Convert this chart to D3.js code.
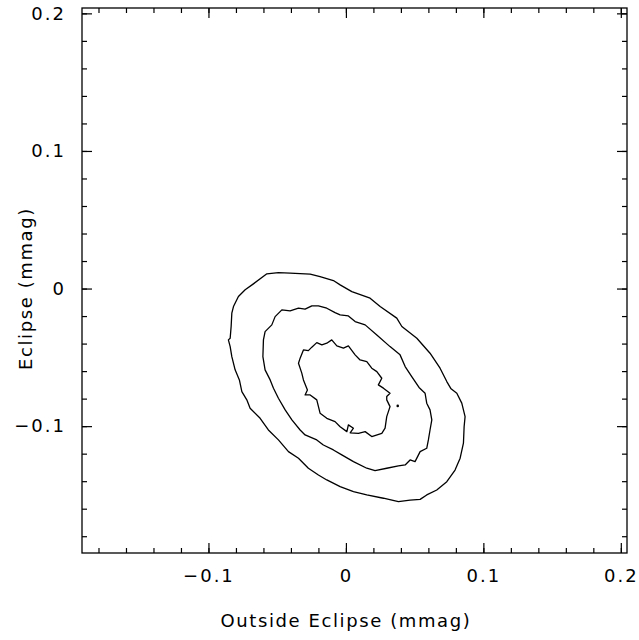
<!doctype html>
<html>
<head>
  <meta charset="utf-8">
  <title>Eclipse vs Outside Eclipse</title>
  <style>
  body { margin: 0; background: #fff; }
  svg text { font-family: "DejaVu Sans ExtraLight", "DejaVu Sans", sans-serif; fill: #000; }
  </style>
</head>
<body>
  <div id="vis"></div>
  <script src="https://d3js.org/d3.v7.min.js"></script>
  <script>
  // contour levels, [outside, eclipse] in mmag
  var outerContour = [
    [-0.0575, 0.0107], [-0.0491, 0.0116], [-0.0406, 0.0112], [-0.0260, 0.0105], [-0.0188, 0.0087],
    [-0.0091, 0.0058], [-0.0042, 0.0027], [0.0043, -0.0022], [0.0176, -0.0070], [0.0249, -0.0131],
    [0.0370, -0.0215], [0.0407, -0.0276], [0.0516, -0.0361], [0.0612, -0.0470], [0.0685, -0.0579],
    [0.0734, -0.0676], [0.0765, -0.0729], [0.0807, -0.0761], [0.0843, -0.0833], [0.0867, -0.0931],
    [0.0860, -0.1004], [0.0855, -0.1124], [0.0831, -0.1233], [0.0794, -0.1319], [0.0734, -0.1404],
    [0.0661, -0.1464], [0.0588, -0.1500], [0.0540, -0.1532], [0.0467, -0.1537], [0.0382, -0.1549],
    [0.0273, -0.1524], [0.0152, -0.1500], [0.0055, -0.1476], [-0.0042, -0.1440], [-0.0139, -0.1391],
    [-0.0200, -0.1355], [-0.0273, -0.1306], [-0.0345, -0.1233], [-0.0418, -0.1185], [-0.0491, -0.1100],
    [-0.0564, -0.1028], [-0.0624, -0.0943], [-0.0697, -0.0870], [-0.0721, -0.0809], [-0.0757, -0.0749],
    [-0.0775, -0.0664], [-0.0806, -0.0591], [-0.0830, -0.0495], [-0.0842, -0.0422], [-0.0855, -0.0373],
    [-0.0842, -0.0361], [-0.0835, -0.0276], [-0.0830, -0.0179], [-0.0818, -0.0131], [-0.0782, -0.0058],
    [-0.0733, -0.0009], [-0.0673, 0.0034]
  ];
  var middleContour = [
    [-0.0466, -0.0155], [-0.0406, -0.0162], [-0.0345, -0.0143], [-0.0297, -0.0150], [-0.0248, -0.0126],
    [-0.0200, -0.0126], [-0.0139, -0.0143], [-0.0079, -0.0175], [-0.0042, -0.0191], [0.0018, -0.0199],
    [0.0067, -0.0240], [0.0140, -0.0264], [0.0225, -0.0337], [0.0321, -0.0422], [0.0394, -0.0482],
    [0.0431, -0.0567], [0.0479, -0.0640], [0.0532, -0.0719], [0.0576, -0.0761], [0.0588, -0.0833],
    [0.0612, -0.0882], [0.0625, -0.0955], [0.0612, -0.1028], [0.0600, -0.1100], [0.0588, -0.1161],
    [0.0540, -0.1185], [0.0503, -0.1258], [0.0467, -0.1246], [0.0431, -0.1282], [0.0382, -0.1289],
    [0.0297, -0.1306], [0.0212, -0.1324], [0.0152, -0.1306], [0.0055, -0.1258], [-0.0030, -0.1209],
    [-0.0091, -0.1173], [-0.0164, -0.1137], [-0.0212, -0.1100], [-0.0297, -0.1064], [-0.0333, -0.1028],
    [-0.0393, -0.0955], [-0.0442, -0.0882], [-0.0491, -0.0797], [-0.0527, -0.0724], [-0.0551, -0.0664],
    [-0.0588, -0.0591], [-0.0604, -0.0495], [-0.0600, -0.0373], [-0.0588, -0.0313], [-0.0539, -0.0264],
    [-0.0515, -0.0204]
  ];
  var innerContour = [
    [-0.0333, -0.0506], [-0.0309, -0.0446], [-0.0273, -0.0451], [-0.0248, -0.0426], [-0.0212, -0.0393],
    [-0.0175, -0.0409], [-0.0139, -0.0397], [-0.0103, -0.0373], [-0.0066, -0.0417], [-0.0018, -0.0433],
    [0.0018, -0.0417], [0.0067, -0.0482], [0.0103, -0.0519], [0.0152, -0.0531], [0.0188, -0.0579],
    [0.0225, -0.0604], [0.0261, -0.0652], [0.0236, -0.0700], [0.0273, -0.0724], [0.0321, -0.0761],
    [0.0297, -0.0785], [0.0297, -0.0809], [0.0321, -0.0858], [0.0297, -0.0931], [0.0285, -0.1015],
    [0.0261, -0.1052], [0.0188, -0.1076], [0.0140, -0.1040], [0.0091, -0.1052], [0.0031, -0.1049],
    [0.0055, -0.1015], [0.0018, -0.0991], [0.0007, -0.1040], [-0.0042, -0.1004], [-0.0079, -0.0967],
    [-0.0139, -0.0943], [-0.0188, -0.0906], [-0.0212, -0.0809], [-0.0260, -0.0773], [-0.0297, -0.0773],
    [-0.0280, -0.0737], [-0.0309, -0.0664], [-0.0321, -0.0615], [-0.0345, -0.0543]
  ];
  var bestFit = [0.0377, -0.0853];

  var majorTicks = [-0.1, 0, 0.1, 0.2];
  var minorTicks = d3.range(-9, 11).map(function(i){ return i * 0.02; });
  var xDomain = [-0.192, 0.2045];
  var yDomain = [-0.1922, 0.2039];

  var width = 639, height = 640;
  var margin = { top: 8, right: 12, bottom: 87, left: 82 };
  var w = width - margin.left - margin.right;
  var h = height - margin.top - margin.bottom;

  var svg = d3.select('#vis').append('svg')
    .attr('width', width)
    .attr('height', height);
  var g = svg.append('g').attr('transform', 'translate(' + margin.left + ',' + margin.top + ')');

  var x = d3.scaleLinear().domain(xDomain).range([0, w]);
  var y = d3.scaleLinear().domain(yDomain).range([h, 0]);
  var fmt = d3.format('~g');

  function axis(gen, tx, ty, vals, size, labels, pad){
    var a = gen.tickValues(vals).tickSize(size).tickPadding(pad || 3)
      .tickFormat(labels ? fmt : '');
    var sel = g.append('g').attr('transform', 'translate(' + tx + ',' + ty + ')').call(a);
    sel.select('.domain').remove();
    sel.selectAll('line').attr('stroke', '#000').attr('stroke-width', 1.2);
    sel.selectAll('text').style('font-size', '18px').style('letter-spacing', '2px')
      .attr('fill', '#000');
    return sel;
  }

  // minor ticks
  axis(d3.axisBottom(x), 0, h, minorTicks, -5, false);
  axis(d3.axisTop(x), 0, 0, minorTicks, -5, false);
  axis(d3.axisLeft(y), 0, 0, minorTicks, -5, false);
  axis(d3.axisRight(y), w, 0, minorTicks, -5, false);
  // major ticks
  axis(d3.axisBottom(x), 0, h, majorTicks, -10, true, 16);
  axis(d3.axisTop(x), 0, 0, majorTicks, -10, false);
  axis(d3.axisLeft(y), 0, 0, majorTicks, -10, true, 16);
  axis(d3.axisRight(y), w, 0, majorTicks, -10, false);

  g.append('rect')
    .attr('width', w).attr('height', h)
    .attr('fill', 'none').attr('stroke', '#000').attr('stroke-width', 1.3);

  var line = d3.line()
    .x(function(d){ return x(d[0]); })
    .y(function(d){ return y(d[1]); })
    .curve(d3.curveLinearClosed);

  g.selectAll('path.contour')
    .data([outerContour, middleContour, innerContour])
    .enter().append('path')
      .attr('class', 'contour')
      .attr('d', line)
      .attr('fill', 'none')
      .attr('stroke', '#000')
      .attr('stroke-width', 1.3)
      .attr('stroke-linejoin', 'round');

  g.append('circle')
    .attr('cx', x(bestFit[0]))
    .attr('cy', y(bestFit[1]))
    .attr('r', 1.3)
    .attr('fill', '#000');

  svg.append('text')
    .attr('x', margin.left + x(0))
    .attr('y', 627)
    .attr('text-anchor', 'middle')
    .style('font-size', '18px')
    .style('letter-spacing', '1.6px')
    .text('Outside Eclipse (mmag)');

  svg.append('text')
    .attr('transform', 'translate(32,' + (margin.top + y(0)) + ') rotate(-90)')
    .attr('text-anchor', 'middle')
    .style('font-size', '18px')
    .style('letter-spacing', '1.6px')
    .text('Eclipse (mmag)');
  </script>
</body>
</html>
